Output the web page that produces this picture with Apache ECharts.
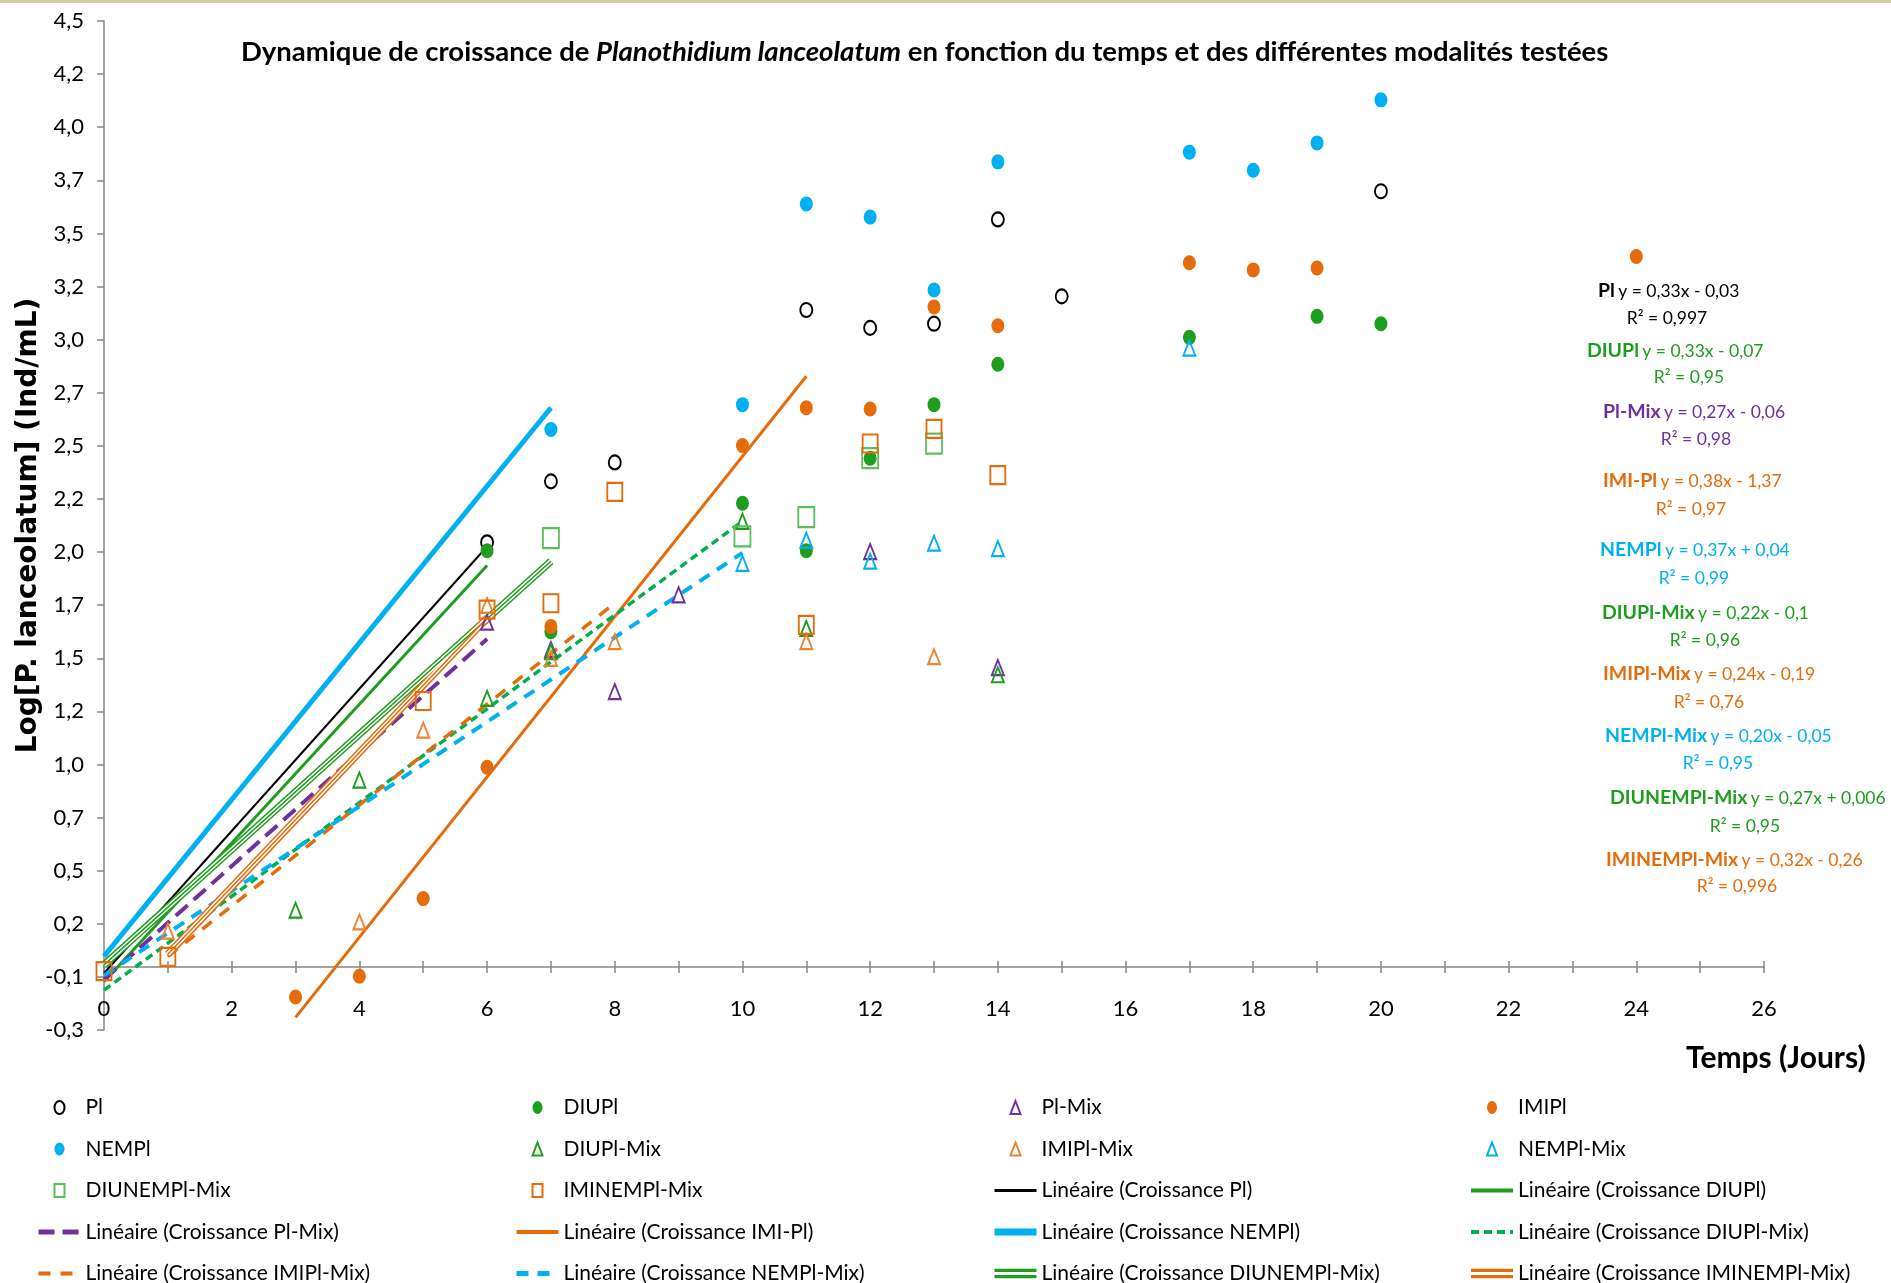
<!DOCTYPE html>
<html><head><meta charset="utf-8">
<script src="https://cdn.jsdelivr.net/npm/echarts@6/dist/echarts.min.js"></script>
<style>html,body{margin:0;padding:0;background:#fff}#c{width:1891px;height:1283px}</style>
</head><body><div id="c"></div>
<script>
// ---------- DATA ----------
const yTickLabels = ['-0,3','-0,1','0,2','0,5','0,7','1,0','1,2','1,5','1,7','2,0','2,2','2,5','2,7','3,0','3,2','3,5','3,7','4,0','4,2','4,5'];
const xTickMax = 26;

// measured points [day, log value]
const dataPl          = [[6,2.02],[7,2.31],[8,2.40],[11,3.125],[12,3.04],[13,3.06],[14,3.556],[15,3.19],[20,3.69]];
const dataDIUPl       = [[6,1.98],[7,1.595],[10,2.206],[11,1.98],[12,2.42],[13,2.675],[14,2.867],[17,2.995],[19,3.095],[20,3.06]];
const dataPlMix       = [[6,1.64],[7,1.51],[8,1.31],[9,1.77],[12,1.976],[14,1.424]];
const dataIMIPl       = [[3,-0.143],[4,-0.044],[5,0.325],[6,0.95],[7,1.62],[10,2.48],[11,2.66],[12,2.654],[13,3.14],[14,3.05],[17,3.35],[18,3.316],[19,3.325],[24,3.38]];
const dataNEMPl       = [[7,2.557],[10,2.675],[11,3.63],[12,3.567],[13,3.22],[14,3.83],[17,3.876],[18,3.79],[19,3.92],[20,4.125]];
const dataDIUPlMix    = [[3,0.27],[4,0.889],[6,1.278],[7,1.50],[10,2.12],[11,1.61],[14,1.39]];
const dataIMIPlMix    = [[1,0.17],[4,0.214],[5,1.127],[6,1.72],[7,1.468],[8,1.548],[11,1.548],[13,1.476]];
const dataNEMPlMix    = [[10,1.92],[11,2.03],[12,1.93],[13,2.016],[14,1.99],[17,2.944]];
const dataDIUNEMPlMix = [[7,2.04],[10,2.048],[11,2.14],[12,2.42],[13,2.49]];
const dataIMINEMPlMix = [[0,-0.02],[1,0.048],[5,1.265],[6,1.70],[7,1.73],[8,2.26],[11,1.627],[12,2.49],[13,2.56],[14,2.34]];

// trend line end points [day, value]
const trendPl          = [[0,-0.03],[6,2.0]];
const trendDIUPl       = [[0,-0.07],[6,1.91]];
const trendPlMix       = [[0,-0.06],[6,1.56]];
const trendIMIPl       = [[3,-0.24],[11,2.81]];
const trendNEMPl       = [[0,0.05],[7,2.66]];
const trendDIUPlMix    = [[0,-0.11],[10,2.12]];
const trendIMIPlMix    = [[1,0.05],[8,1.73]];
const trendNEMPlMix    = [[0,-0.04],[10,1.97]];
const trendDIUNEMPlMix = [[0,0.01],[7,1.93]];
const trendIMINEMPlMix = [[1,0.06],[6,1.66]];

// equation annotations
const eqNames    = ['Pl','DIUPl','Pl-Mix','IMI-Pl','NEMPl','DIUPl-Mix','IMIPl-Mix','NEMPl-Mix','DIUNEMPl-Mix','IMINEMPl-Mix'];
const eqFormulas = ['y = 0,33x - 0,03','y = 0,33x - 0,07','y = 0,27x - 0,06','y = 0,38x - 1,37','y = 0,37x + 0,04','y = 0,22x - 0,1','y = 0,24x - 0,19','y = 0,20x - 0,05','y = 0,27x + 0,006','y = 0,32x - 0,26'];
const eqR2       = ['0,997','0,95','0,98','0,97','0,99','0,96','0,76','0,95','0,95','0,996'];

// ---------- STYLE / LAYOUT ----------
const FONT = 'Lato, "Liberation Sans", sans-serif';
const C = {black:'#000000', green:'#1E9E1E', lgreen:'#5DBE5D', dgreen:'#00B050', purple:'#7030A0', orange:'#E46C0A', lorange:'#EC8333', cyan:'#00B0F0'};
const eqColors = [C.black,C.green,C.purple,C.orange,C.cyan,C.green,C.orange,C.cyan,C.green,C.orange];
const eqLayout = [[1598,291,1667,318],[1587,351,1689,377],[1603,412,1696,439],[1603,481,1691,509],[1600,550,1694,578],[1602,613,1705,640],[1603,674,1709,702],[1605,736,1718,763],[1610,798,1745,826],[1606,860,1737,886]];

function scat(name, data, symbol, color, size, filled){
  return {name, type:'scatter', data, symbol, symbolSize:size, z:5,
    itemStyle: filled ? {color, opacity:1} : {color:'rgba(255,255,255,0)', borderColor:color, borderWidth:2, opacity:1}};
}
function trend(name, data, color, width, type, extra){
  return Object.assign({name, type:'line', data, symbol:'none', z:3, color,
    lineStyle:{color, width, type: type||'solid', cap:'butt'}}, extra||{});
}

const series = [
  trend('Linéaire (Croissance Pl)', trendPl, C.black, 2),
  trend('Linéaire (Croissance DIUPl)', trendDIUPl, C.green, 3),
  trend('Linéaire (Croissance Pl-Mix)', trendPlMix, C.purple, 4, [16,8]),
  trend('Linéaire (Croissance IMI-Pl)', trendIMIPl, C.orange, 3),
  trend('Linéaire (Croissance NEMPl)', trendNEMPl, C.cyan, 5),
  trend('Linéaire (Croissance DIUPl-Mix)', trendDIUPlMix, C.dgreen, 3.5, [8,5]),
  trend('Linéaire (Croissance IMIPl-Mix)', trendIMIPlMix, C.orange, 3.5, [12,10]),
  trend('Linéaire (Croissance NEMPl-Mix)', trendNEMPlMix, C.cyan, 4, [12,9]),
  trend('Linéaire (Croissance DIUNEMPl-Mix)', trendDIUNEMPlMix, C.green, 7.5),
  trend('_diun_w', trendDIUNEMPlMix, '#ffffff', 4.5, 'solid', {silent:true, z:3.1}),
  trend('_diun_c', trendDIUNEMPlMix, C.green, 1.5, 'solid', {silent:true, z:3.2}),
  trend('Linéaire (Croissance IMINEMPl-Mix)', trendIMINEMPlMix, C.orange, 7.5),
  trend('_imin_w', trendIMINEMPlMix, '#ffffff', 4.5, 'solid', {silent:true, z:3.1}),
  trend('_imin_c', trendIMINEMPlMix, C.orange, 1.5, 'solid', {silent:true, z:3.2}),
  scat('Pl', dataPl, 'circle', C.black, [12,14], false),
  scat('DIUPl', dataDIUPl, 'circle', C.green, [13,15], true),
  scat('Pl-Mix', dataPlMix, 'triangle', C.purple, [12,15], false),
  scat('IMIPl', dataIMIPl, 'circle', C.orange, [13,15], true),
  scat('NEMPl', dataNEMPl, 'circle', C.cyan, [13,15], true),
  scat('DIUPl-Mix', dataDIUPlMix, 'triangle', C.green, [12,15], false),
  scat('IMIPl-Mix', dataIMIPlMix, 'triangle', C.lorange, [12,15], false),
  scat('NEMPl-Mix', dataNEMPlMix, 'triangle', C.cyan, [12,15], false),
  scat('DIUNEMPl-Mix', dataDIUNEMPlMix, 'rect', C.lgreen, [16,20], false),
  scat('IMINEMPl-Mix', dataIMINEMPlMix, 'rect', C.orange, [15,18], false)
];

const iconDouble = 'path://M0,0H40V3H0Z M0,6H40V9H0Z';
const iconTri = 'path://M5,0L10,13L0,13Z';
const iconRect = 'path://M0,0H10V13H0Z';
const iconCirc = 'path://M5,0A5,6.5 0 1 1 5,13A5,6.5 0 1 1 5,0Z';
const legendLineWidth = {'Pl':3,'DIUPl':4,'Pl-Mix':5,'IMI-Pl':4,'NEMPl':7,'DIUPl-Mix':4,'IMIPl-Mix':4,'NEMPl-Mix':5};
function legendItem(n){
  if (/^Linéaire/.test(n)) {
    if (/DIUNEMPl-Mix\)|IMINEMPl-Mix\)/.test(n)) return {name:n, icon:iconDouble};
    const key = n.replace('Linéaire (Croissance ','').replace(')','');
    return {name:n, itemStyle:{opacity:0}, lineStyle:{width:legendLineWidth[key]||3}};
  }
  const s = series.find(x => x.name === n);
  if (s.symbol === 'triangle') return {name:n, icon:iconTri};
  if (s.symbol === 'rect') return {name:n, icon:iconRect};
  return {name:n, icon:iconCirc};
}
const legendCols = [
  ['Pl','NEMPl','DIUNEMPl-Mix','Linéaire (Croissance Pl-Mix)','Linéaire (Croissance IMIPl-Mix)'],
  ['DIUPl','DIUPl-Mix','IMINEMPl-Mix','Linéaire (Croissance IMI-Pl)','Linéaire (Croissance NEMPl-Mix)'],
  ['Pl-Mix','IMIPl-Mix','Linéaire (Croissance Pl)','Linéaire (Croissance NEMPl)','Linéaire (Croissance DIUNEMPl-Mix)'],
  ['IMIPl','NEMPl-Mix','Linéaire (Croissance DIUPl)','Linéaire (Croissance DIUPl-Mix)','Linéaire (Croissance IMINEMPl-Mix)']
];
const legendLeft = [36,514,991,1469];
const legends = legendCols.map((names,i)=>({
  data: names.map(legendItem),
  orient:'vertical', left:legendLeft[i], top:1097, width:420, height:240, padding:0,
  itemWidth:42, itemHeight:13, itemGap:20.5,
  selectedMode:false,
  textStyle:{fontFamily:FONT, fontSize:21, color:'#000', lineHeight:20}
}));

const graphics = [
  {type:'line', shape:{x1:0,y1:1.5,x2:1891,y2:1.5}, style:{stroke:'#cfcca6', lineWidth:3}},
  {type:'text', left:1686, top:1043, style:{text:'Temps (Jours)', font:'bold 30px '+FONT, fill:'#000'}},
  {type:'text', left:241, top:38, style:{
    text:'{b|Dynamique de croissance de }{bi|Planothidium lanceolatum}{b| en fonction du temps et des différentes modalités testées}',
    rich:{b:{fontFamily:FONT, fontWeight:'bold', fontSize:27.5, fill:'#000', color:'#000'},
          bi:{fontFamily:FONT, fontWeight:'bold', fontStyle:'italic', fontSize:27.5, fill:'#000', color:'#000'}}}}
];
eqNames.forEach((n,i)=>{
  const [x1,y1,x2,y2] = eqLayout[i];
  const col = eqColors[i];
  graphics.push({type:'text', x:x1, y:y1, style:{
    text:'{b|'+n+'} {n|'+eqFormulas[i]+'}', verticalAlign:'middle', textVerticalAlign:'middle',
    rich:{b:{fontFamily:FONT, fontWeight:'bold', fontSize:19.5, fill:col, color:col},
          n:{fontFamily:FONT, fontSize:17.5, fill:col, color:col}}}});
  graphics.push({type:'text', x:x2, y:y2, style:{
    text:'R² = '+eqR2[i], align:'center', textAlign:'center', verticalAlign:'middle', textVerticalAlign:'middle',
    font:'17.5px '+FONT, fill:col}});
});

const axisGrey = '#868686';
const zeroOffset = -63;
const option = {
  backgroundColor:'#ffffff',
  animation:false,
  grid:{left:104, right:127, top:21, bottom:253, containLabel:false},
  xAxis:[
    {type:'value', min:0, max:xTickMax, interval:1, position:'bottom', offset:zeroOffset,
     axisLine:{show:true, onZero:false, lineStyle:{color:axisGrey, width:1.5}},
     axisTick:{show:true, length:6, lineStyle:{color:axisGrey, width:1.5}},
     axisLabel:{margin:31, fontFamily:FONT, fontSize:22, color:'#000', formatter:v => (v%2===0 ? String(v) : '')},
     splitLine:{show:false}},
    {type:'value', min:0, max:xTickMax, interval:1, position:'bottom', offset:zeroOffset,
     axisLine:{show:false, onZero:false},
     axisTick:{show:true, inside:true, length:6, lineStyle:{color:axisGrey, width:1.5}},
     axisLabel:{show:false}, splitLine:{show:false}}
  ],
  yAxis:[
    {type:'value', min:-0.3, max:4.5, position:'left',
     axisLine:{show:true, onZero:false, lineStyle:{color:axisGrey, width:1.5}},
     axisTick:{show:false}, axisLabel:{show:false}, splitLine:{show:false},
     name:'Log[P. lanceolatum] (Ind/mL)', nameLocation:'middle', nameRotate:90, nameGap:61,
     nameTextStyle:{fontFamily:'"DejaVu Sans", sans-serif', fontWeight:'bold', fontSize:28, color:'#000'}},
    {type:'category', data:yTickLabels, boundaryGap:false, position:'left',
     axisLine:{show:false, onZero:false}, axisTick:{show:true, interval:0, length:7, lineStyle:{color:axisGrey, width:1.5}},
     axisLabel:{interval:0, margin:20, fontFamily:FONT, fontSize:22, color:'#000'},
     splitLine:{show:false}}
  ],
  legend: legends,
  graphic: graphics,
  series: series
};
const chart = echarts.init(document.getElementById('c'), null, {renderer:'canvas'});
chart.setOption(option);
</script>
</body></html>
